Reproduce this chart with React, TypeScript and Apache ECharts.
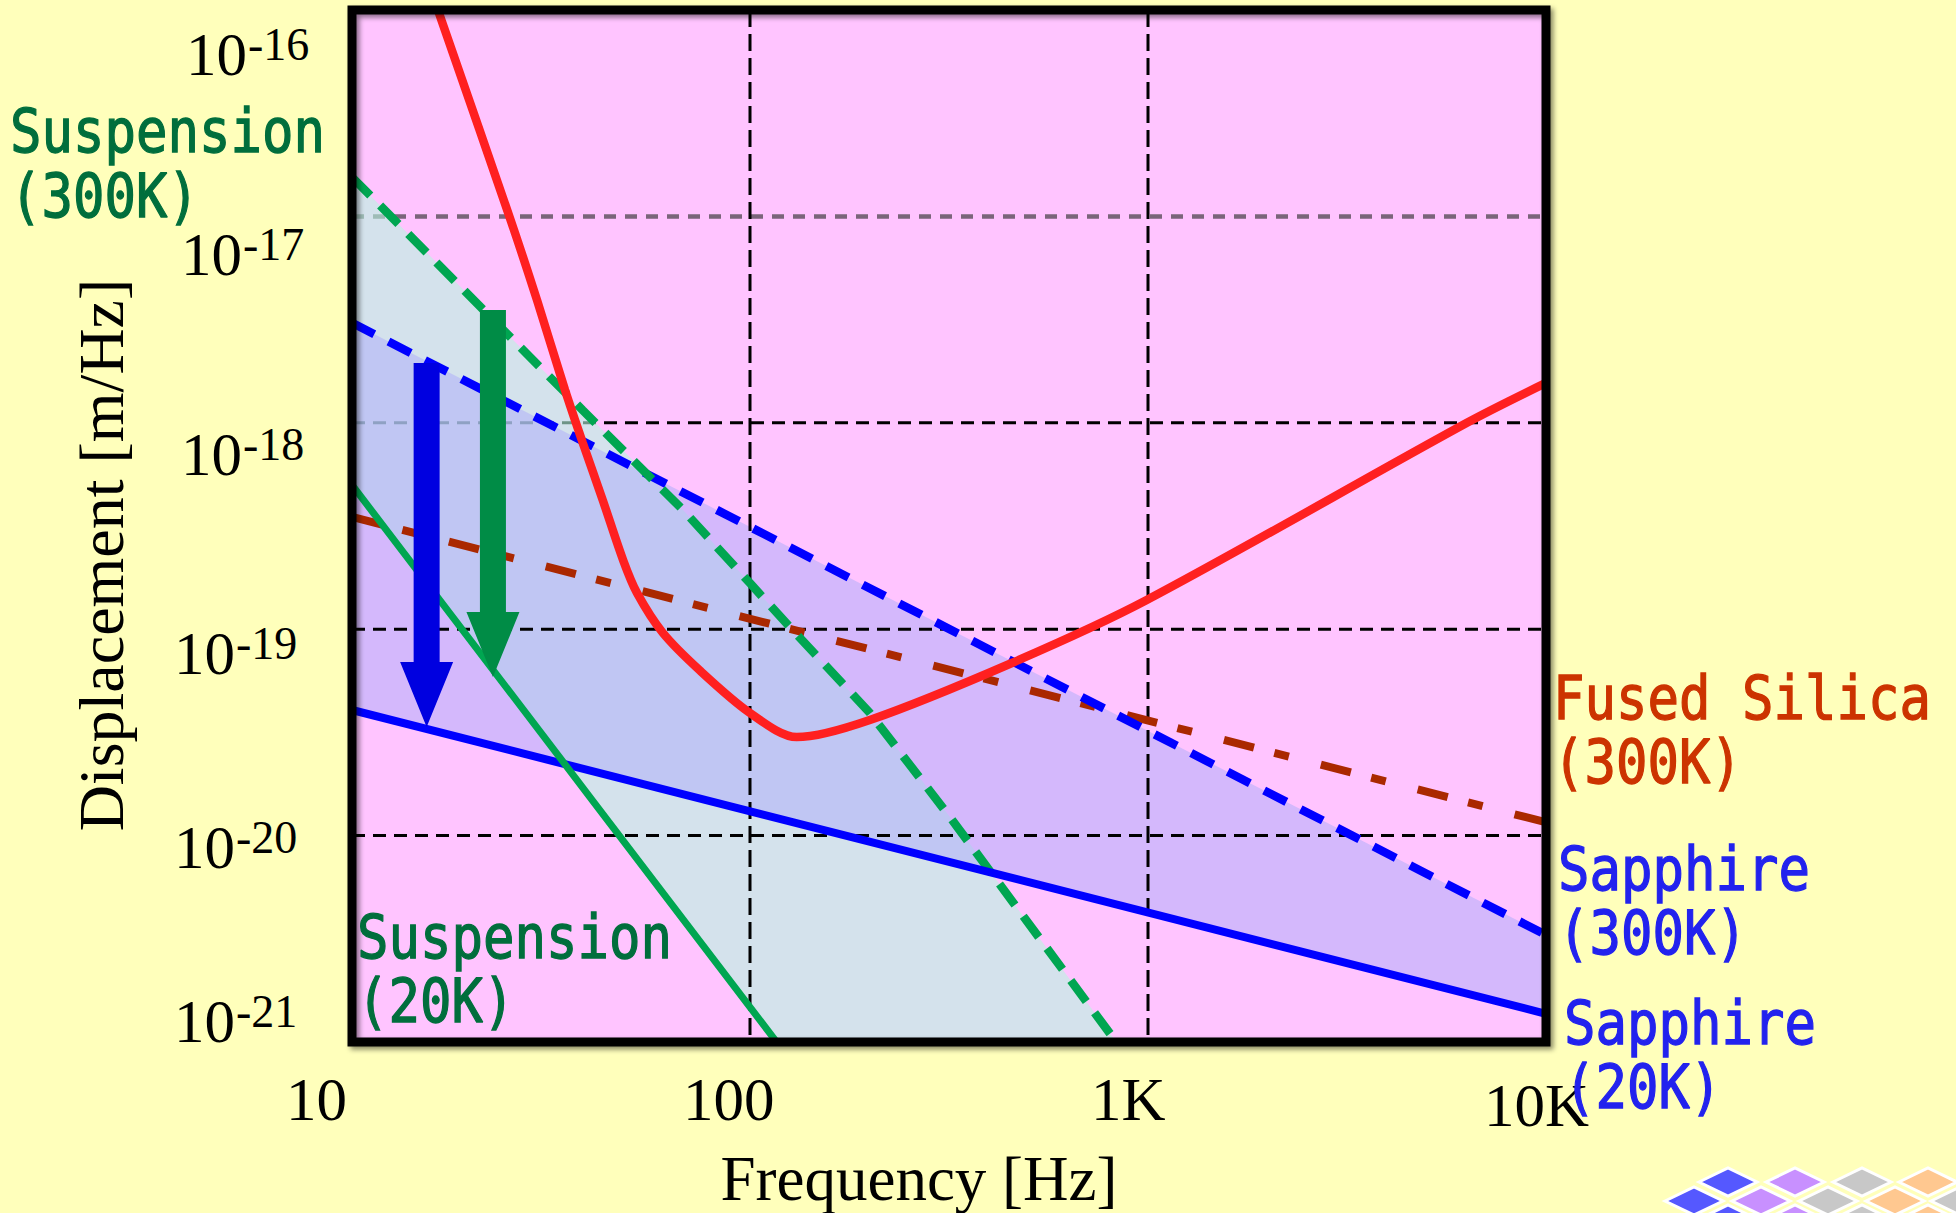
import React, { useEffect, useRef } from 'react';
import * as echarts from 'echarts';

// ---------- data ----------
const X_TICKS = [10, 100, 1000, 10000];
const X_TICK_LABELS = ['10', '100', '1K', '10K'];
const Y_TICKS = [1e-16, 1e-17, 1e-18, 1e-19, 1e-20, 1e-21];
const Y_TICK_EXPONENTS = ['-16', '-17', '-18', '-19', '-20', '-21'];
const X_GRID = [100, 1000];
const Y_GRID = [1e-17, 1e-18, 1e-19, 1e-20];

// total (red, unlabeled)
const TOTAL_NOISE: number[][] = [
  [16.5, 9.8e-17], [24.9, 9.9e-18], [29.2, 3.9e-18], [34.3, 1.44e-18], [38.0, 8.0e-19],
  [42.7, 4.2e-19], [48.0, 2.16e-19], [52.0, 1.5e-19], [60.4, 9.6e-20], [74.9, 6.3e-20],
  [100, 3.93e-20], [131, 3.0e-20], [200, 3.63e-20], [455, 6.86e-20], [990, 1.38e-19],
  [6330, 1.0e-18], [10000, 1.56e-18],
];
const SUSPENSION_300K: number[][] = [
  [10, 1.55e-17], [25.4, 2.52e-18], [38, 1.15e-18], [67.9, 3.78e-19], [100, 1.67e-19],
  [128, 9.9e-20], [200, 3.93e-20], [318, 1.23e-20], [832, 1.0e-21],
];
const SUSPENSION_20K: number[][] = [[10, 5.0e-19], [40, 1.5e-20], [120, 9.3e-22]];
const SAPPHIRE_300K: number[][] = [[10, 3.05e-18], [10000, 3.3e-21]];
const SAPPHIRE_20K: number[][] = [[10, 4.06e-20], [10000, 1.37e-21]];
const FUSED_SILICA_300K: number[][] = [[10, 3.5e-19], [10000, 1.16e-20]];
// arrows: [frequency, from (300K), to (20K)]
const SAPPHIRE_ARROW = [15.4, 1.95e-18, 3.36e-20];
const SUSPENSION_ARROW = [22.6, 3.52e-18, 5.86e-20];

// ---------- layout ----------
const W = 1956;
const H = 1213;
const GL = 352, GT = 10, GW = 1194, GH = 1032;
const SERIF = '"Liberation Serif", "Times New Roman", serif';
const MONO = '"DejaVu Sans Mono", monospace';

function clipPolygon(points: number[][], x0: number, y0: number, x1: number, y1: number) {
  let out = points;
  const clipEdge = (inside: (p: number[]) => boolean, inter: (a: number[], b: number[]) => number[]) => {
    const input = out;
    out = [];
    for (let i = 0; i < input.length; i++) {
      const cur = input[i];
      const prev = input[(i + input.length - 1) % input.length];
      const ci = inside(cur), pi = inside(prev);
      if (ci) {
        if (!pi) out.push(inter(prev, cur));
        out.push(cur);
      } else if (pi) out.push(inter(prev, cur));
    }
  };
  const ix = (a: number[], b: number[], x: number) => [x, a[1] + ((b[1] - a[1]) * (x - a[0])) / (b[0] - a[0])];
  const iy = (a: number[], b: number[], y: number) => [a[0] + ((b[0] - a[0]) * (y - a[1])) / (b[1] - a[1]), y];
  clipEdge((p) => p[0] >= x0, (a, b) => ix(a, b, x0));
  clipEdge((p) => p[0] <= x1, (a, b) => ix(a, b, x1));
  clipEdge((p) => p[1] >= y0, (a, b) => iy(a, b, y0));
  clipEdge((p) => p[1] <= y1, (a, b) => iy(a, b, y1));
  return out;
}

function bandSeries(upper: number[][], lower: number[][], fill: string, z: number) {
  return {
    type: 'custom',
    coordinateSystem: 'cartesian2d',
    silent: true,
    z,
    data: [[upper[0][0], upper[0][1]]],
    encode: { x: 0, y: 1 },
    renderItem: (params: any, api: any) => {
      const cs = params.coordSys;
      const pts = [
        ...upper.map((p) => api.coord(p)),
        ...lower.map((p) => api.coord(p)).reverse(),
      ];
      const clipped = clipPolygon(pts, cs.x, cs.y, cs.x + cs.width, cs.y + cs.height);
      return { type: 'polygon', shape: { points: clipped }, style: { fill } };
    },
  };
}

function hGridSeries(values: number[], z: number) {
  return {
    type: 'custom',
    coordinateSystem: 'cartesian2d',
    silent: true,
    z,
    data: values.map((v) => [10, v]),
    encode: { x: 0, y: 1 },
    renderItem: (params: any, api: any) => {
      const cs = params.coordSys;
      const v = api.value(1);
      const p = api.coord([10, v]);
      const grey = Math.abs(Math.log10(v) + 17) < 0.01;
      return {
        type: 'line',
        shape: { x1: cs.x, y1: p[1], x2: cs.x + cs.width, y2: p[1] },
        style: grey
          ? { stroke: '#7a647a', lineWidth: 4.5, lineDash: [12, 9] }
          : { stroke: '#000', lineWidth: 3, lineDash: [13, 8] },
      };
    },
  };
}

function vGridSeries(values: number[], z: number) {
  return {
    type: 'custom',
    coordinateSystem: 'cartesian2d',
    silent: true,
    z,
    data: values.map((f) => [f, 1e-19]),
    encode: { x: 0, y: 1 },
    renderItem: (params: any, api: any) => {
      const cs = params.coordSys;
      const p = api.coord([api.value(0), 1e-19]);
      return {
        type: 'line',
        shape: { x1: p[0], y1: cs.y, x2: p[0], y2: cs.y + cs.height },
        style: { stroke: '#000', lineWidth: 3, lineDash: [17, 7] },
      };
    },
  };
}

function lineSeries(name: string, data: number[][], color: string, width: number, dash: any, extra: any = {}) {
  return {
    type: 'line',
    name,
    data,
    showSymbol: false,
    symbol: 'none',
    silent: true,
    clip: true,
    z: 4,
    lineStyle: { color, width, type: dash, cap: 'butt' },
    ...extra,
  };
}

function arrowSeries(arrow: number[], color: string) {
  return {
    type: 'custom',
    coordinateSystem: 'cartesian2d',
    silent: true,
    z: 6,
    data: [arrow],
    encode: { x: 0, y: [1, 2] },
    renderItem: (_params: any, api: any) => {
      const f = api.value(0);
      const top = api.coord([f, api.value(1)]);
      const tip = api.coord([f, api.value(2)]);
      const cx = top[0];
      const sw = 13, hw = 26.5, hl = 65;
      const hy = tip[1] - hl;
      return {
        type: 'polygon',
        shape: {
          points: [
            [cx - sw, top[1]], [cx + sw, top[1]], [cx + sw, hy], [cx + hw, hy],
            [cx, tip[1]], [cx - hw, hy], [cx - sw, hy],
          ],
        },
        style: { fill: color },
      };
    },
  };
}

function text(str: string, x: number, baseline: number, size: number, family: string, color: string, extra: any = {}) {
  const k = family === MONO ? 0.346 : 0.3375;
  const { align, strokeW, ...rest } = extra;
  return {
    type: 'text',
    x,
    y: baseline - k * size,
    z: 100,
    silent: true,
    ...rest,
    style: {
      text: str,
      fill: color,
      stroke: strokeW ? color : undefined,
      lineWidth: strokeW || 0,
      font: `${size}px ${family}`,
      textAlign: align || 'left',
      align: align || 'left',
      textVerticalAlign: 'middle',
      verticalAlign: 'middle',
    },
  };
}

function diamond(cx: number, cy: number, fill: string) {
  const hw = 29, hh = 14;
  return {
    type: 'polygon',
    z: 100,
    silent: true,
    shape: { points: [[cx - hw, cy], [cx, cy - hh], [cx + hw, cy], [cx, cy + hh]] },
    style: { fill, stroke: '#ffffff', lineWidth: 3 },
  };
}

function buildOption() {
  const GREEN_TXT = '#006e3c';
  const RED_TXT = '#cc3300';
  const BLUE_TXT = '#2222ee';
  const mono = { scaleX: 0.872, strokeW: 1.3 };

  // tick label layout (text positions only)
  const yLabelX = [186, 181, 181, 174, 174, 174];
  const yLabelBase = [75, 275, 475, 674, 868, 1042];
  const xLabelX = [286, 683, 1091, 1484];
  const xLabelBase = [1120, 1120, 1120, 1126];

  const graphics: any[] = [];
  // frame
  graphics.push({
    type: 'rect',
    z: 99,
    silent: true,
    shape: { x: GL, y: GT, width: GW, height: GH },
    style: {
      fill: 'none',
      stroke: '#000',
      lineWidth: 9,
      shadowBlur: 5,
      shadowOffsetX: 3,
      shadowOffsetY: 3,
      shadowColor: 'rgba(0,0,0,0.45)',
    },
  });
  // y tick labels
  Y_TICKS.forEach((_t, i) => {
    graphics.push(text('10', yLabelX[i], yLabelBase[i], 61, SERIF, '#000'));
    graphics.push(text(Y_TICK_EXPONENTS[i], yLabelX[i] + 62, yLabelBase[i] - 15, 46, SERIF, '#000'));
  });
  // x tick labels
  X_TICKS.forEach((_t, i) => {
    graphics.push(text(X_TICK_LABELS[i], xLabelX[i], xLabelBase[i], 61, SERIF, '#000'));
  });
  // axis titles
  graphics.push(text('Frequency [Hz]', 919, 1200, 63, SERIF, '#000', { align: 'center' }));
  graphics.push({
    ...text('Displacement [m/Hz]', 0, 0, 64, SERIF, '#000', { align: 'center' }),
    x: 101,
    y: 555,
    rotation: Math.PI / 2,
  });
  // curve labels
  graphics.push(text('Suspension', 10, 152, 60, MONO, GREEN_TXT, mono));
  graphics.push(text('(300K)', 10, 217, 60, MONO, GREEN_TXT, mono));
  graphics.push(text('Suspension', 357, 958, 60, MONO, GREEN_TXT, mono));
  graphics.push(text('(20K)', 357, 1022, 60, MONO, GREEN_TXT, mono));
  graphics.push(text('Fused Silica', 1553, 719, 60, MONO, RED_TXT, mono));
  graphics.push(text('(300K)', 1553, 783, 60, MONO, RED_TXT, mono));
  graphics.push(text('Sapphire', 1558, 890, 60, MONO, BLUE_TXT, mono));
  graphics.push(text('(300K)', 1558, 954, 60, MONO, BLUE_TXT, mono));
  graphics.push(text('Sapphire', 1564, 1044, 60, MONO, BLUE_TXT, mono));
  graphics.push(text('(20K)', 1564, 1108, 60, MONO, BLUE_TXT, mono));

  // decorative diamonds (bottom right)
  const cBlue = '#5558ff', cViolet = '#c890ff', cGrey = '#c8c8c8', cOrange = '#ffc890';
  [[1728, cBlue], [1795, cViolet], [1862, cGrey], [1928, cOrange]].forEach(([x, c]) =>
    graphics.push(diamond(x as number, 1219, c as string)));
  [[1694, cBlue], [1761, cViolet], [1828, cGrey], [1895, cOrange], [1960, cGrey]].forEach(([x, c]) =>
    graphics.push(diamond(x as number, 1201, c as string)));
  [[1728, cBlue], [1795, cViolet], [1862, cGrey], [1928, cOrange]].forEach(([x, c]) =>
    graphics.push(diamond(x as number, 1182, c as string)));

  const hiddenAxis = {
    axisLine: { show: false, onZero: false },
    axisTick: { show: false },
    axisLabel: { show: false },
    splitLine: { show: false },
  };

  return {
    animation: false,
    backgroundColor: '#ffffbb',
    grid: {
      left: GL,
      top: GT,
      width: GW,
      height: GH,
      show: true,
      backgroundColor: '#ffc4ff',
      borderWidth: 0,
    },
    xAxis: { type: 'log', logBase: 10, min: 10, max: 10000, ...hiddenAxis },
    yAxis: { type: 'log', logBase: 10, min: 1e-21, max: 1e-16, ...hiddenAxis },
    series: [
      hGridSeries(Y_GRID.filter((v) => v >= 1e-18 * 0.99), 1),
      bandSeries(SUSPENSION_300K, SUSPENSION_20K, 'rgba(183,246,223,0.6)', 2),
      bandSeries(SAPPHIRE_300K, SAPPHIRE_20K, 'rgba(174,173,249,0.53)', 2),
      hGridSeries(Y_GRID.filter((v) => v < 1e-18 * 0.99), 3),
      vGridSeries(X_GRID, 3),
      lineSeries('Fused Silica (300K)', FUSED_SILICA_300K, '#aa2800', 8, [31, 21, 15, 33]),
      lineSeries('Sapphire (300K)', SAPPHIRE_300K, '#0000ff', 8.5, [25, 16]),
      lineSeries('Suspension (300K)', SUSPENSION_300K, '#00a651', 8.5, [26, 14]),
      lineSeries('Sapphire (20K)', SAPPHIRE_20K, '#0000ff', 8, 'solid'),
      lineSeries('Suspension (20K)', SUSPENSION_20K, '#00a651', 7, 'solid'),
      lineSeries('Total', TOTAL_NOISE, '#ff2020', 8.5, 'solid', { smooth: 0.3 }),
      arrowSeries(SAPPHIRE_ARROW, '#0000e0'),
      arrowSeries(SUSPENSION_ARROW, '#008c46'),
    ],
    graphic: { elements: graphics },
  };
}

export default function App() {
  const ref = useRef<HTMLDivElement>(null);
  useEffect(() => {
    const chart = echarts.init(ref.current as HTMLDivElement, undefined, { renderer: 'svg', width: W, height: H });
    chart.setOption(buildOption() as any);
    return () => chart.dispose();
  }, []);
  return <div ref={ref} style={{ position: 'fixed', left: 0, top: 0, width: W, height: H }} />;
}
